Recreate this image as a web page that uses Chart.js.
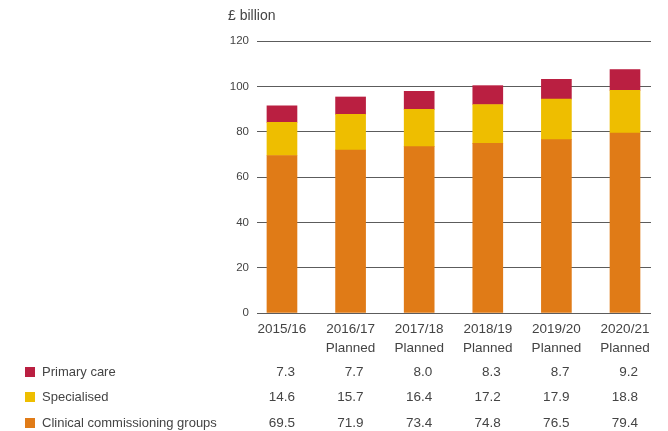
<!DOCTYPE html>
<html>
<head>
<meta charset="utf-8">
<script src="https://cdn.jsdelivr.net/npm/chart.js@4"></script>
<style>
  html, body { margin: 0; padding: 0; background: #fff; }
  #wrap { width: 668px; height: 431px; }
</style>
</head>
<body>
<div id="wrap"><canvas id="myChart" width="668" height="431"></canvas></div>
<script>
const years = [['2015/16'], ['2016/17', 'Planned'], ['2017/18', 'Planned'], ['2018/19', 'Planned'], ['2019/20', 'Planned'], ['2020/21', 'Planned']];
const primaryCare = [7.3, 7.7, 8.0, 8.3, 8.7, 9.2];
const specialised = [14.6, 15.7, 16.4, 17.2, 17.9, 18.8];
const ccg = [69.5, 71.9, 73.4, 74.8, 76.5, 79.4];
const yTicks = [0, 20, 40, 60, 80, 100, 120];

const FONT = '"Liberation Sans", Arial, sans-serif';
const TEXT = '#444';

function toPoints(arr) {
  return arr.map((v, i) => ({x: i, y: v}));
}

// legend + values table under the chart, plus the unit label
const tablePlugin = {
  id: 'table',
  afterDraw(chart) {
    const ctx = chart.ctx;
    const xs = chart.scales.x;
    const rows = [
      {label: 'Primary care', color: chart.data.datasets[2].backgroundColor, vals: primaryCare, y: 372},
      {label: 'Specialised', color: chart.data.datasets[1].backgroundColor, vals: specialised, y: 397},
      {label: 'Clinical commissioning groups', color: chart.data.datasets[0].backgroundColor, vals: ccg, y: 423}
    ];
    ctx.save();
    ctx.textBaseline = 'middle';
    ctx.fillStyle = TEXT;
    ctx.textAlign = 'left';
    ctx.font = '14px ' + FONT;
    ctx.fillText('£ billion', 228, 16);
    for (const row of rows) {
      ctx.fillStyle = row.color;
      ctx.fillRect(25, row.y - 5, 10, 10);
      ctx.fillStyle = TEXT;
      ctx.textAlign = 'left';
      ctx.font = '13px ' + FONT;
      ctx.fillText(row.label, 42, row.y);
      ctx.textAlign = 'right';
      ctx.font = '13.5px ' + FONT;
      row.vals.forEach((v, i) => {
        ctx.fillText(v.toFixed(1), xs.getPixelForValue(i) + 13, row.y);
      });
    }
    ctx.restore();
  }
};

function main() {
  const chartDiv = document.getElementById('myChart');
  new Chart(chartDiv, {
    type: 'bar',
    data: {
      datasets: [
        {label: 'Clinical commissioning groups', data: toPoints(ccg), backgroundColor: 'rgb(224,123,23)'},
        {label: 'Specialised', data: toPoints(specialised), backgroundColor: 'rgb(238,190,0)'},
        {label: 'Primary care', data: toPoints(primaryCare), backgroundColor: 'rgb(186,31,65)'}
      ]
    },
    options: {
      responsive: false,
      animation: false,
      layout: {padding: {left: 0, right: 17, top: 41, bottom: 0}},
      datasets: {bar: {barThickness: 30}},
      plugins: {legend: {display: false}, tooltip: {enabled: false}},
      scales: {
        x: {
          type: 'linear',
          stacked: true,
          min: -0.364,
          max: 5.379,
          offset: false,
          afterBuildTicks: (scale) => { scale.ticks = years.map((_, i) => ({value: i})); },
          afterFit: (scale) => { scale.height = 118; },
          grid: {display: false, drawTicks: false},
          border: {display: false},
          ticks: {
            color: TEXT,
            font: {family: FONT, size: 13.5, lineHeight: 1.4},
            padding: 7,
            maxRotation: 0,
            autoSkip: false,
            callback: (v) => years[v]
          }
        },
        y: {
          stacked: true,
          min: 0,
          max: 120,
          afterBuildTicks: (scale) => { scale.ticks = yTicks.map(v => ({value: v})); },
          afterFit: (scale) => { scale.width = 257; },
          grid: {color: '#5c5c5c', lineWidth: 1, drawTicks: false},
          border: {display: false},
          ticks: {
            color: TEXT,
            font: {family: FONT, size: 11.5},
            padding: 8
          }
        }
      }
    },
    plugins: [tablePlugin]
  });
}

document.addEventListener('DOMContentLoaded', function () {
  main();
});
</script>
</body>
</html>
